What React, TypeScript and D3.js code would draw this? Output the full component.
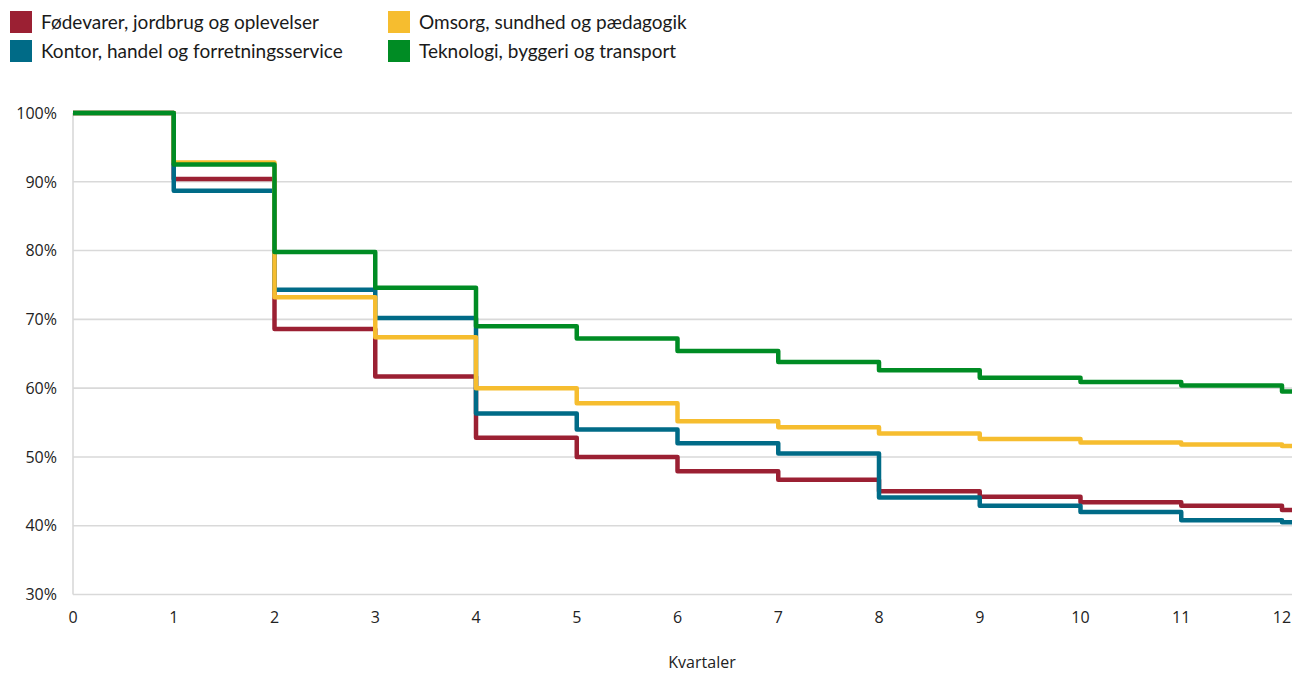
import React from "react";
import * as d3 from "d3";

const quarters = [0, 1, 2, 3, 4, 5, 6, 7, 8, 9, 10, 11, 12];
const fodevarer = [100, 90.4, 68.6, 61.7, 52.8, 50.0, 47.9, 46.7, 45.0, 44.2, 43.4, 42.9, 42.3];
const kontor = [100, 88.7, 74.3, 70.2, 56.3, 54.0, 52.0, 50.5, 44.1, 42.9, 42.0, 40.8, 40.5];
const omsorg = [100, 92.8, 73.2, 67.4, 60.0, 57.8, 55.2, 54.3, 53.4, 52.6, 52.1, 51.8, 51.6];
const teknologi = [100, 92.5, 79.8, 74.6, 69.0, 67.2, 65.4, 63.8, 62.6, 61.5, 60.9, 60.4, 59.5];
const yTicks = [30, 40, 50, 60, 70, 80, 90, 100];
const xTicks = quarters;
const lastQuarterExtent = 12.15;

const seriesNames = [
  "Fødevarer, jordbrug og oplevelser",
  "Kontor, handel og forretningsservice",
  "Omsorg, sundhed og pædagogik",
  "Teknologi, byggeri og transport",
];
const seriesColors = ["#9b2033", "#006b87", "#f6bd2f", "#008c24"];
const seriesValues = [fodevarer, kontor, omsorg, teknologi];

const W = 1292;
const H = 674;

export default function App() {
  const x = d3.scaleLinear().domain([0, 12]).range([73, 1282]);
  const y = d3.scaleLinear().domain([30, 100]).range([594.5, 113]);

  const line = d3
    .line<[number, number]>()
    .x((d) => x(d[0]))
    .y((d) => y(d[1]))
    .curve(d3.curveStepAfter);

  const seriesPoints = seriesValues.map((vals) => {
    const pts: [number, number][] = quarters.map((q, i) => [q, vals[i]]);
    pts.push([lastQuarterExtent, vals[vals.length - 1]]);
    return pts;
  });

  const legendPos = [
    { x: 10, y: 11 },
    { x: 10, y: 40 },
    { x: 388, y: 11 },
    { x: 388, y: 40 },
  ];

  const tickFont = "'Open Sans', 'Noto Sans', sans-serif";
  const legendFont = "Lato, 'Open Sans', sans-serif";

  return (
    <div style={{ position: "absolute", left: 0, top: 0, width: W, height: H, overflow: "hidden" }}>
      <svg width={W} height={H} style={{ display: "block", background: "#fff" }}>
        {/* gridlines */}
        {yTicks.map((t) => (
          <line
            key={"g" + t}
            x1={x(0)}
            x2={W}
            y1={y(t)}
            y2={y(t)}
            stroke="#d9d9d9"
            strokeWidth={1.6}
          />
        ))}
        <line x1={x(0)} x2={x(0)} y1={y(100)} y2={y(30)} stroke="#d9d9d9" strokeWidth={1.6} />

        {/* y labels */}
        {yTicks.map((t) => (
          <text
            key={"yl" + t}
            x={57}
            y={y(t)}
            dy="0.36em"
            textAnchor="end"
            fontFamily={tickFont}
            fontSize={16}
            fill="#222"
          >
            {t}%
          </text>
        ))}

        {/* x labels */}
        {xTicks.map((t) => (
          <text
            key={"xl" + t}
            x={x(t)}
            y={617}
            dy="0.36em"
            textAnchor="middle"
            fontFamily={tickFont}
            fontSize={16}
            fill="#222"
          >
            {t}
          </text>
        ))}
        <text
          x={702}
          y={662}
          dy="0.36em"
          textAnchor="middle"
          fontFamily={tickFont}
          fontSize={16}
          fill="#222"
        >
          Kvartaler
        </text>

        {/* lines */}
        {seriesPoints.map((pts, i) => (
          <path
            key={"s" + i}
            d={line(pts) || ""}
            fill="none"
            stroke={seriesColors[i]}
            strokeWidth={4.5}
            strokeLinejoin="round"
          />
        ))}

        {/* legend */}
        {seriesNames.map((name, i) => (
          <g key={"lg" + i} transform={`translate(${legendPos[i].x},${legendPos[i].y})`}>
            <rect x={0} y={0} width={22} height={22} fill={seriesColors[i]} />
            <text
              x={31}
              y={11}
              dy="0.35em"
              fontFamily={legendFont}
              fontSize={19}
              fill="#1a1a1a"
            >
              {name}
            </text>
          </g>
        ))}
      </svg>
    </div>
  );
}
